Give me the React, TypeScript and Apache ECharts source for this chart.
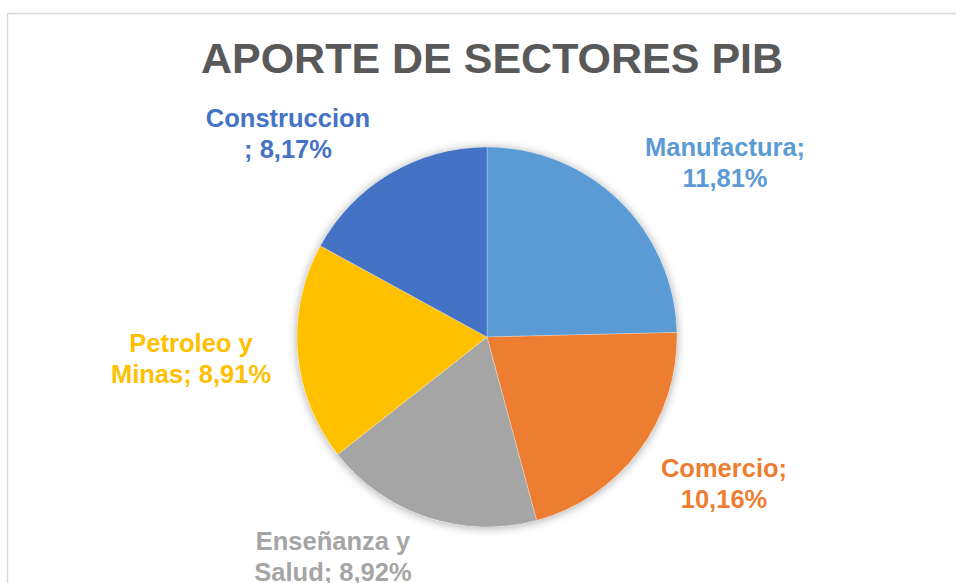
import React, { useEffect, useRef } from "react";
import * as echarts from "echarts";

const titleText = "APORTE DE SECTORES PIB";
const categories = ["Manufactura", "Comercio", "Enseñanza y Salud", "Petroleo y Minas", "Construccion"];
const values = [11.81, 10.16, 8.92, 8.91, 8.17];
const colors = ["#5B9BD5", "#ED7D31", "#A5A5A5", "#FFC000", "#4472C4"];

// label placement (layout only)
const labelPos: [number, number][] = [
  [725, 162],
  [724, 483],
  [333, 556],
  [191, 358],
  [288, 133],
];

function fmt(v: number) {
  return v.toFixed(2).replace(".", ",") + "%";
}

function labelText(name: string, v: number) {
  const full = `${name}; ${fmt(v)}`;
  if (name.includes(" y ")) {
    return full.replace(" y ", " y\n");
  }
  if (name === "Construccion") return `${name}\n; ${fmt(v)}`;
  return `${name};\n${fmt(v)}`;
}

export default function App() {
  const ref = useRef<HTMLDivElement>(null);
  useEffect(() => {
    document.body.style.margin = "0";
    const chart = echarts.init(ref.current!, null, { renderer: "svg" });
    const font = "'Liberation Sans', Arial, sans-serif";
    const total = values.reduce((a, b) => a + b, 0);
    chart.setOption({
      animation: false,
      backgroundColor: "#ffffff",
      graphic: [
        {
          type: "rect",
          shape: { x: 7.5, y: 13.5, width: 1000, height: 1000 },
          style: { fill: "none", stroke: "#d9d9d9", lineWidth: 1.5 },
          silent: true,
        },
        {
          type: "text",
          x: 492,
          y: 58,
          style: {
            text: titleText,
            fill: "#595959",
            font: `bold 43px ${font}`,
            align: "center",
            verticalAlign: "middle",
          },
          silent: true,
        },
      ],
      series: [
        {
          type: "pie",
          silent: true,
          center: [487, 337],
          radius: 190,
          z: 1,
          label: { show: false },
          labelLine: { show: false },
          itemStyle: {
            color: "#ffffff",
            shadowBlur: 10,
            shadowColor: "rgba(0,0,0,0.35)",
            shadowOffsetY: 1,
          },
          data: [{ value: total, name: "_bg" }],
        },
        {
          type: "pie",
          center: [487, 337],
          radius: 190,
          startAngle: 90,
          clockwise: true,
          z: 2,
          itemStyle: { borderWidth: 0.5, borderColor: "rgba(255,255,255,0.5)" },
          labelLine: { show: false },
          label: {
            show: true,
            position: "outside",
            fontFamily: font,
            fontWeight: "bold",
            fontSize: 25.5,
            lineHeight: 31,
            align: "center",
            formatter: (p: any) => labelText(p.name, p.value),
          },
          labelLayout: (p: any) => {
            const pos = labelPos[p.dataIndex];
            return { x: pos[0], y: pos[1], align: "center", verticalAlign: "middle" };
          },
          data: categories.map((c, i) => ({
            name: c,
            value: values[i],
            itemStyle: { color: colors[i] },
            label: { color: colors[i] },
          })),
        },
      ],
    });
    return () => chart.dispose();
  }, []);
  return <div ref={ref} style={{ position: "fixed", left: 0, top: 0, width: 956, height: 583 }} />;
}
